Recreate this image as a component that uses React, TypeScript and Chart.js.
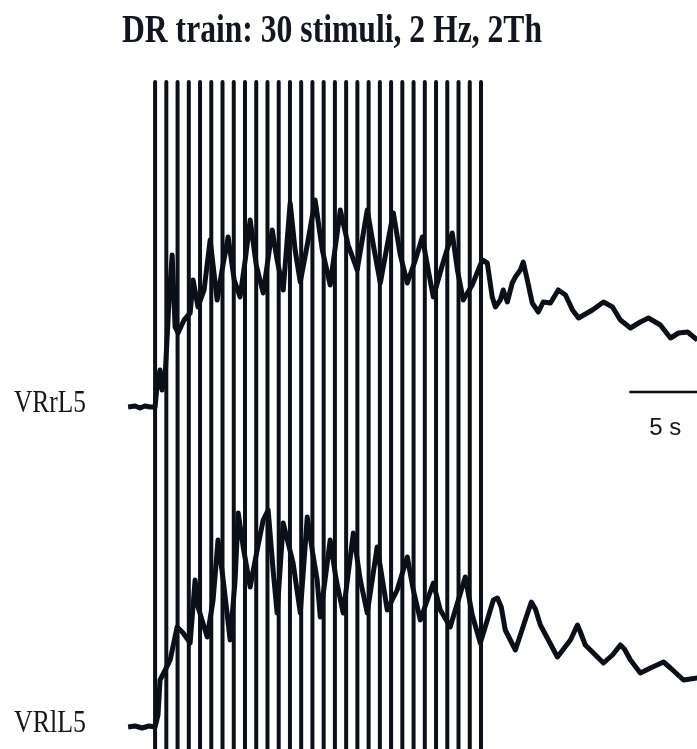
import { useEffect, useRef } from "react";
import { Chart, registerables } from "chart.js";

Chart.register(...registerables);

// ---- data ----
const TITLE = "DR train: 30 stimuli, 2 Hz, 2Th";
const TRACE_LABELS = ["VRrL5", "VRlL5"];
const SCALE_LABEL = "5 s";

// stimulus times (s), 30 stimuli at 2 Hz
const STIM_TIMES = [
  0, 0.5, 1.0, 1.5, 2.0, 2.5, 3.0, 3.5, 4.0, 4.5,
  5.0, 5.5, 6.0, 6.5, 7.0, 7.5, 8.0, 8.5, 9.0, 9.5,
  10.0, 10.5, 11.0, 11.5, 12.0, 12.5, 13.0, 13.5, 14.0, 14.5,
];

// VRrL5 trace: time (s) and deflection (a.u.)
const TOP_T = [
  -1.2, -0.89, -0.67, -0.45, -0.22, 0, 0.09, 0.22, 0.31, 0.45, 0.62, 0.76, 0.89, 1.02,
  1.29, 1.56, 1.69, 1.91, 2.18, 2.45, 2.76, 2.98, 3.25, 3.52, 3.78, 4.01, 4.23, 4.5,
  4.81, 5.21, 5.43, 5.7, 6.01, 6.23, 6.46, 6.81, 7.12, 7.44, 7.79, 8.06, 8.24, 8.59,
  8.99, 9.44, 9.71, 10.02, 10.33, 10.6, 10.91, 11.22, 11.58, 11.89, 12.15, 12.38,
  12.78, 13.22, 13.45, 13.71, 14.11, 14.56, 14.78, 15.0, 15.14, 15.36, 15.49, 15.67,
  15.89, 16.03, 16.25, 16.38, 16.56, 16.78, 17.05, 17.27, 17.59, 17.94, 18.26, 18.57,
  18.84, 19.46, 19.95, 20.35, 20.7, 21.15, 21.59, 21.95, 22.48, 22.93, 23.29, 23.69, 24.13,
];
const TOP_V = [
  0, 1, -1, 1, 0, 0, 22, 37, 17, 32, 107, 152, 80, 74,
  87, 94, 127, 100, 117, 167, 107, 137, 170, 127, 110, 147, 187, 142,
  114, 177, 147, 117, 204, 157, 125, 167, 207, 157, 122, 167, 197, 162,
  137, 197, 162, 124, 162, 194, 152, 124, 147, 170, 137, 110,
  142, 174, 137, 107, 122, 147, 144, 110, 100, 107, 117, 105,
  124, 130, 137, 145, 127, 104, 95, 105, 104, 117, 112, 97,
  89, 97, 105, 100, 87, 79, 85, 89, 82, 69, 74, 75, 67, 62,
];

// VRlL5 trace
const BOT_T = [
  -1.2, -0.89, -0.58, -0.27, 0, 0.13, 0.22, 0.45, 0.67, 0.98, 1.25, 1.56, 1.78, 1.91,
  2.32, 2.58, 2.8, 3.03, 3.34, 3.56, 3.7, 3.92, 4.23, 4.54, 4.81, 5.03, 5.25, 5.43,
  5.7, 6.14, 6.46, 6.77, 6.99, 7.21, 7.35, 7.79, 8.06, 8.37, 8.82, 9.13, 9.44, 9.88,
  10.15, 10.33, 10.77, 11.22, 11.49, 11.8, 12.38, 12.69, 13.13, 13.8, 14.11, 14.47,
  14.78, 15.05, 15.23, 15.4, 15.58, 16.03, 16.47, 16.74, 16.92, 17.14, 17.9, 18.48,
  18.79, 18.92, 19.14, 19.95, 20.35, 20.7, 20.88, 21.15, 21.59, 22.04, 22.62, 22.93,
  23.51, 24.13,
];
const BOT_V = [
  0, 1, -1, 1, 0, 12, 47, 57, 67, 100, 94, 84, 147, 120,
  90, 127, 187, 147, 87, 147, 214, 180, 140, 177, 207, 217, 157, 114,
  204, 164, 114, 210, 177, 147, 110, 187, 147, 114, 194, 147, 114, 180,
  142, 117, 137, 170, 137, 107, 144, 117, 100, 150, 112, 84,
  107, 127, 129, 120, 97, 77, 107, 125, 118, 102, 70, 87,
  102, 95, 82, 64, 72, 82, 78, 67, 54, 59, 65, 59,
  47, 49,
];

// scale bar (s)
const SCALE_BAR_T = [21.1, 26.1];

// ---- layout constants (not data) ----
const W = 697;
const H = 749;
const TOP_BASE = 342;
const BOT_BASE = 22;
const STIM_TOP = 667;
const STIM_BOTTOM = -20;
const BAR_Y = 357;
const INK = "#0b0f18";

const textPlugin = {
  id: "figText",
  afterDraw(chart: any) {
    const ctx = chart.ctx as CanvasRenderingContext2D;
    const x = chart.scales.x;
    const y = chart.scales.y;
    ctx.save();
    ctx.fillStyle = "#121620";
    ctx.textBaseline = "alphabetic";
    ctx.textAlign = "left";

    // title
    ctx.font = 'bold 32px "Liberation Serif", "Times New Roman", serif';
    const tw = ctx.measureText(TITLE).width;
    ctx.save();
    ctx.translate(122, 42);
    ctx.scale(420 / tw, 1.27);
    ctx.fillText(TITLE, 0, 0);
    ctx.restore();

    // trace labels
    ctx.font = '24px "Liberation Serif", "Times New Roman", serif';
    const bases = [TOP_BASE, BOT_BASE];
    TRACE_LABELS.forEach((lab, i) => {
      const lw = ctx.measureText(lab).width;
      ctx.save();
      ctx.translate(14, y.getPixelForValue(bases[i]) + 5);
      ctx.scale(72 / lw, 1.3);
      ctx.fillText(lab, 0, 0);
      ctx.restore();
    });

    // scale label
    ctx.font = '24px "Liberation Sans", Arial, sans-serif';
    ctx.fillText(SCALE_LABEL, x.getPixelForValue(SCALE_BAR_T[0]) + 20, y.getPixelForValue(BAR_Y) + 43);
    ctx.restore();
  },
};

export default function App() {
  const ref = useRef<HTMLCanvasElement | null>(null);

  useEffect(() => {
    if (!ref.current) return;
    const stimData: any[] = [];
    STIM_TIMES.forEach((t) => {
      stimData.push({ x: t, y: STIM_TOP });
      stimData.push({ x: t, y: STIM_BOTTOM });
      stimData.push({ x: t, y: null });
    });
    const top = TOP_T.map((t, i) => ({ x: t, y: TOP_BASE + TOP_V[i] }));
    const bot = BOT_T.map((t, i) => ({ x: t, y: BOT_BASE + BOT_V[i] }));
    const bar = SCALE_BAR_T.map((t) => ({ x: t, y: BAR_Y }));

    const traceStyle = {
      borderColor: INK,
      borderWidth: 5,
      pointRadius: 0,
      tension: 0,
      borderJoinStyle: "round",
      borderCapStyle: "butt",
    };

    const chart = new Chart(ref.current, {
      type: "line",
      data: {
        datasets: [
          { label: TRACE_LABELS[0], data: top, ...traceStyle },
          { label: TRACE_LABELS[1], data: bot, ...traceStyle },
          {
            label: "stimuli",
            data: stimData,
            borderColor: INK,
            borderWidth: 4,
            pointRadius: 0,
            spanGaps: false,
            borderCapStyle: "round",
          },
          {
            label: "scale",
            data: bar,
            borderColor: INK,
            borderWidth: 2.5,
            pointRadius: 0,
          },
        ],
      } as any,
      options: {
        animation: false,
        responsive: false,
        devicePixelRatio: 1,
        layout: { padding: 0 },
        plugins: {
          legend: { display: false },
          title: { display: false },
          tooltip: { enabled: false },
        },
        scales: {
          x: { type: "linear", min: -6.9, max: 24.11, display: false },
          y: { type: "linear", min: 0, max: H, display: false },
        },
      } as any,
      plugins: [textPlugin],
    });
    return () => chart.destroy();
  }, []);

  return (
    <div style={{ position: "fixed", left: 0, top: 0, width: W, height: H, background: "#fff" }}>
      <canvas ref={ref} width={W} height={H} style={{ display: "block" }} />
    </div>
  );
}
